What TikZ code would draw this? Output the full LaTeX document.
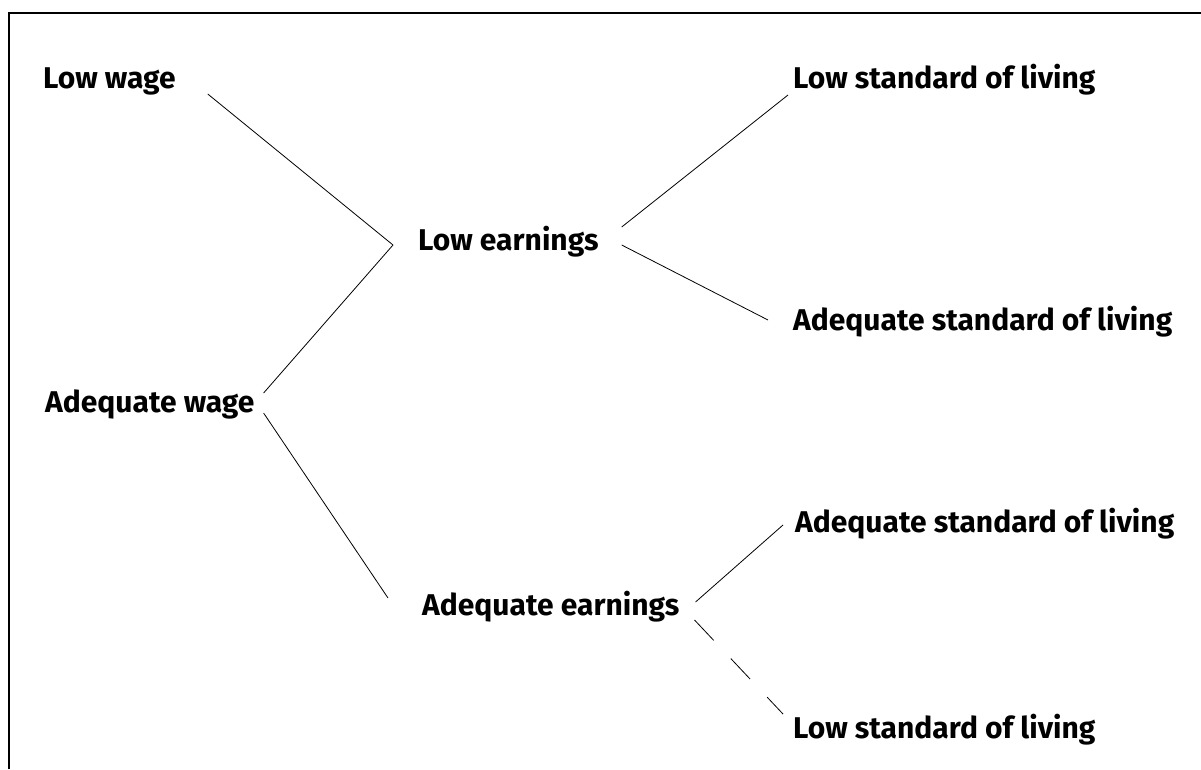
\documentclass[tikz,border=0pt]{standalone}
\usepackage{fontspec}
\setmainfont{Fira Sans}
\tikzset{
  lbl/.style={anchor=base west, inner sep=0pt, font=\bfseries\fontsize{30}{33}\selectfont},
  link/.style={line width=0.8pt},
  gaplink/.style={line width=0.8pt, dash pattern=on 28pt off 25pt}
}
\begin{document}
\begin{tikzpicture}[x=1pt, y=-1pt]
\useasboundingbox (0,0) rectangle (1201,769);

\draw[line width=1.7pt] (9,769) -- (9,13) -- (1201,13);

\node[lbl] (lw) at (43,88) {Low wage};
\node[lbl] (aw) at (45,412) {Adequate wage};

\node[lbl] (le) at (418,250) {Low earnings};
\node[lbl] (ae) at (422,615) {Adequate earnings};

\node[lbl] (ls1) at (793,88) {Low standard of living};
\node[lbl] (as1) at (793,330) {Adequate standard of living};
\node[lbl] (as2) at (795,532) {Adequate standard of living};
\node[lbl] (ls2) at (793,738) {Low standard of living};

\coordinate (fork) at ([shift={(-25,-5)}]le.base west);

\draw[link] ([shift={(32,6)}]lw.base east) -- (fork);
\draw[link] ([shift={(9,-19)}]aw.base east) -- (fork);
\draw[link] ([shift={(9,1)}]aw.base east) -- ([shift={(-34,-17)}]ae.base west);

\draw[link] ([shift={(23,-23)}]le.base east) -- ([shift={(-5,7)}]ls1.base west);
\draw[link] ([shift={(23,-5)}]le.base east) -- ([shift={(-25,-10)}]as1.base west);

\draw[link] ([shift={(16,-13)}]ae.base east) -- ([shift={(-12,-7)}]as2.base west);
\draw[gaplink] ([shift={(15,5)}]ae.base east) -- ([shift={(-10,-24)}]ls2.base west);

\end{tikzpicture}
\end{document}
